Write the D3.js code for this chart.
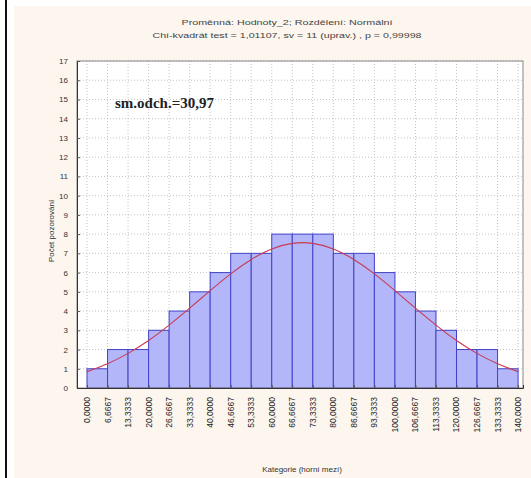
<!DOCTYPE html>
<meta charset="utf-8">
<style>
    body { margin: 0; background: #ffffff; }
    svg { display: block; font-family: "Liberation Sans", Arial, sans-serif; }
</style>
<script src="https://cdn.jsdelivr.net/npm/d3@7"></script>
<body>
<div id="chart"></div>
<script>

    // bin edges (upper limits) and their labels
    var edges = [0, 6.6667, 13.3333, 20, 26.6667, 33.3333, 40, 46.6667, 53.3333, 60, 66.6667,
        73.3333, 80, 86.6667, 93.3333, 100, 106.6667, 113.3333, 120, 126.6667, 133.3333, 140];
    var edgeLabels = ["0,0000", "6,6667", "13,3333", "20,0000", "26,6667", "33,3333", "40,0000",
        "46,6667", "53,3333", "60,0000", "66,6667", "73,3333", "80,0000", "86,6667", "93,3333",
        "100,0000", "106,6667", "113,3333", "120,0000", "126,6667", "133,3333", "140,0000"];

    // observed counts per bin (21 bins)
    var counts = [1, 2, 2, 3, 4, 5, 6, 7, 7, 8, 8, 8, 7, 7, 6, 5, 4, 3, 2, 2, 1];

    // expected normal curve at each bin edge
    var curveVals = [0.85, 1.26, 1.8, 2.47, 3.27, 4.15, 5.06, 5.93, 6.68, 7.23, 7.52,
        7.52, 7.23, 6.68, 5.93, 5.06, 4.15, 3.27, 2.47, 1.8, 1.26, 0.85];

    var yTicks = d3.range(0, 18);

    var W = 531, H = 478;
    var plot = {left: 77, right: 523, top: 61, bottom: 388};

    var svg = d3.select("#chart").append("svg")
        .attr("width", W)
        .attr("height", H);

    // panel background + left frame line
    svg.append("rect").attr("x", 14).attr("y", 6).attr("width", W - 14).attr("height", H - 6)
        .attr("fill", "#fcf6ef");
    svg.append("line").attr("x1", 6).attr("x2", 6).attr("y1", 0).attr("y2", H)
        .attr("stroke", "#111").attr("stroke-width", 2);

    // titles
    svg.append("text").attr("x", 287).attr("y", 25).attr("text-anchor", "middle")
        .attr("font-size", 8).attr("fill", "#444")
        .attr("textLength", 211).attr("lengthAdjust", "spacingAndGlyphs")
        .text("Proměnná: Hodnoty_2; Rozdělení: Normální");
    svg.append("text").attr("x", 287).attr("y", 38).attr("text-anchor", "middle")
        .attr("font-size", 8).attr("fill", "#444")
        .attr("textLength", 269).attr("lengthAdjust", "spacingAndGlyphs")
        .text("Chí-kvadrát test = 1,01107, sv = 11 (uprav.) , p = 0,99998");

    var x = d3.scaleLinear()
        .domain([-3.25, 141.6])
        .range([plot.left, plot.right]);

    var y = d3.scaleLinear()
        .domain([0, 17])
        .range([plot.bottom, plot.top]);

    // plot area
    svg.append("rect")
        .attr("x", plot.left).attr("y", plot.top)
        .attr("width", plot.right - plot.left).attr("height", plot.bottom - plot.top)
        .attr("fill", "#ffffff");

    // grid
    svg.append("g").selectAll("line")
        .data(yTicks.slice(1))
        .enter().append("line")
        .attr("x1", plot.left).attr("x2", plot.right)
        .attr("y1", function (d) { return y(d); })
        .attr("y2", function (d) { return y(d); })
        .attr("stroke", "#c4c4c4").attr("stroke-dasharray", "1,2");
    svg.append("g").selectAll("line")
        .data(edges)
        .enter().append("line")
        .attr("x1", function (d) { return x(d); })
        .attr("x2", function (d) { return x(d); })
        .attr("y1", plot.top).attr("y2", plot.bottom)
        .attr("stroke", "#c4c4c4").attr("stroke-dasharray", "1,2");

    // bars
    svg.append("g").selectAll("rect")
        .data(counts)
        .enter().append("rect")
        .attr("x", function (d, i) { return x(edges[i]); })
        .attr("y", function (d) { return y(d); })
        .attr("width", function (d, i) { return x(edges[i + 1]) - x(edges[i]); })
        .attr("height", function (d) { return y(0) - y(d); })
        .attr("fill", "#b4b6fa")
        .attr("stroke", "#4242c8")
        .attr("stroke-width", 1);

    // normal curve
    var line = d3.line()
        .x(function (d, i) { return x(edges[i]); })
        .y(function (d) { return y(d); })
        .curve(d3.curveNatural);
    svg.append("path")
        .datum(curveVals)
        .attr("d", line)
        .attr("fill", "none")
        .attr("stroke", "#c83a52")
        .attr("stroke-width", 1.1);

    // frame of plot area
    svg.append("rect")
        .attr("x", plot.left).attr("y", plot.top)
        .attr("width", plot.right - plot.left).attr("height", plot.bottom - plot.top)
        .attr("fill", "none").attr("stroke", "#888");

    // Y axis
    var yAxis = svg.append("g")
        .attr("transform", "translate(" + plot.left + ",0)")
        .call(d3.axisRight(y).tickValues(yTicks).tickSize(3).tickFormat(""));
    yAxis.select(".domain").attr("stroke", "#333");
    yAxis.selectAll(".tick line").attr("stroke", "#555");
    svg.append("g").selectAll("text")
        .data(yTicks)
        .enter().append("text")
        .attr("x", 68)
        .attr("y", function (d) { return y(d) + 3; })
        .attr("text-anchor", "end")
        .attr("font-size", 8)
        .attr("fill", "#333")
        .text(function (d) { return d; });

    // X axis
    var xAxis = svg.append("g")
        .attr("transform", "translate(0," + plot.bottom + ")")
        .call(d3.axisTop(x).tickValues(edges).tickSize(3).tickFormat(""));
    xAxis.select(".domain").attr("stroke", "#333");
    xAxis.selectAll(".tick line").attr("stroke", "#555");
    svg.append("g").selectAll("text")
        .data(edges)
        .enter().append("text")
        .attr("transform", function (d) { return "translate(" + (x(d) + 3) + ",397) rotate(-90)"; })
        .attr("text-anchor", "end")
        .attr("font-size", 8.5)
        .attr("fill", "#222")
        .text(function (d, i) { return edgeLabels[i]; });

    // axis titles
    svg.append("text")
        .attr("transform", "translate(54,231) rotate(-90)")
        .attr("text-anchor", "middle")
        .attr("font-size", 8)
        .attr("fill", "#333")
        .text("Počet pozorování");
    svg.append("text")
        .attr("x", 302).attr("y", 472)
        .attr("text-anchor", "middle")
        .attr("font-size", 8)
        .attr("fill", "#333")
        .text("Kategorie (horní mezí)");

    // annotation
    svg.append("text")
        .attr("x", 115).attr("y", 108)
        .attr("font-family", "Liberation Serif, Times New Roman, serif")
        .attr("font-weight", "bold")
        .attr("font-size", 15)
        .attr("fill", "#222")
        .text("sm.odch.=30,97");

</script>
</body>
